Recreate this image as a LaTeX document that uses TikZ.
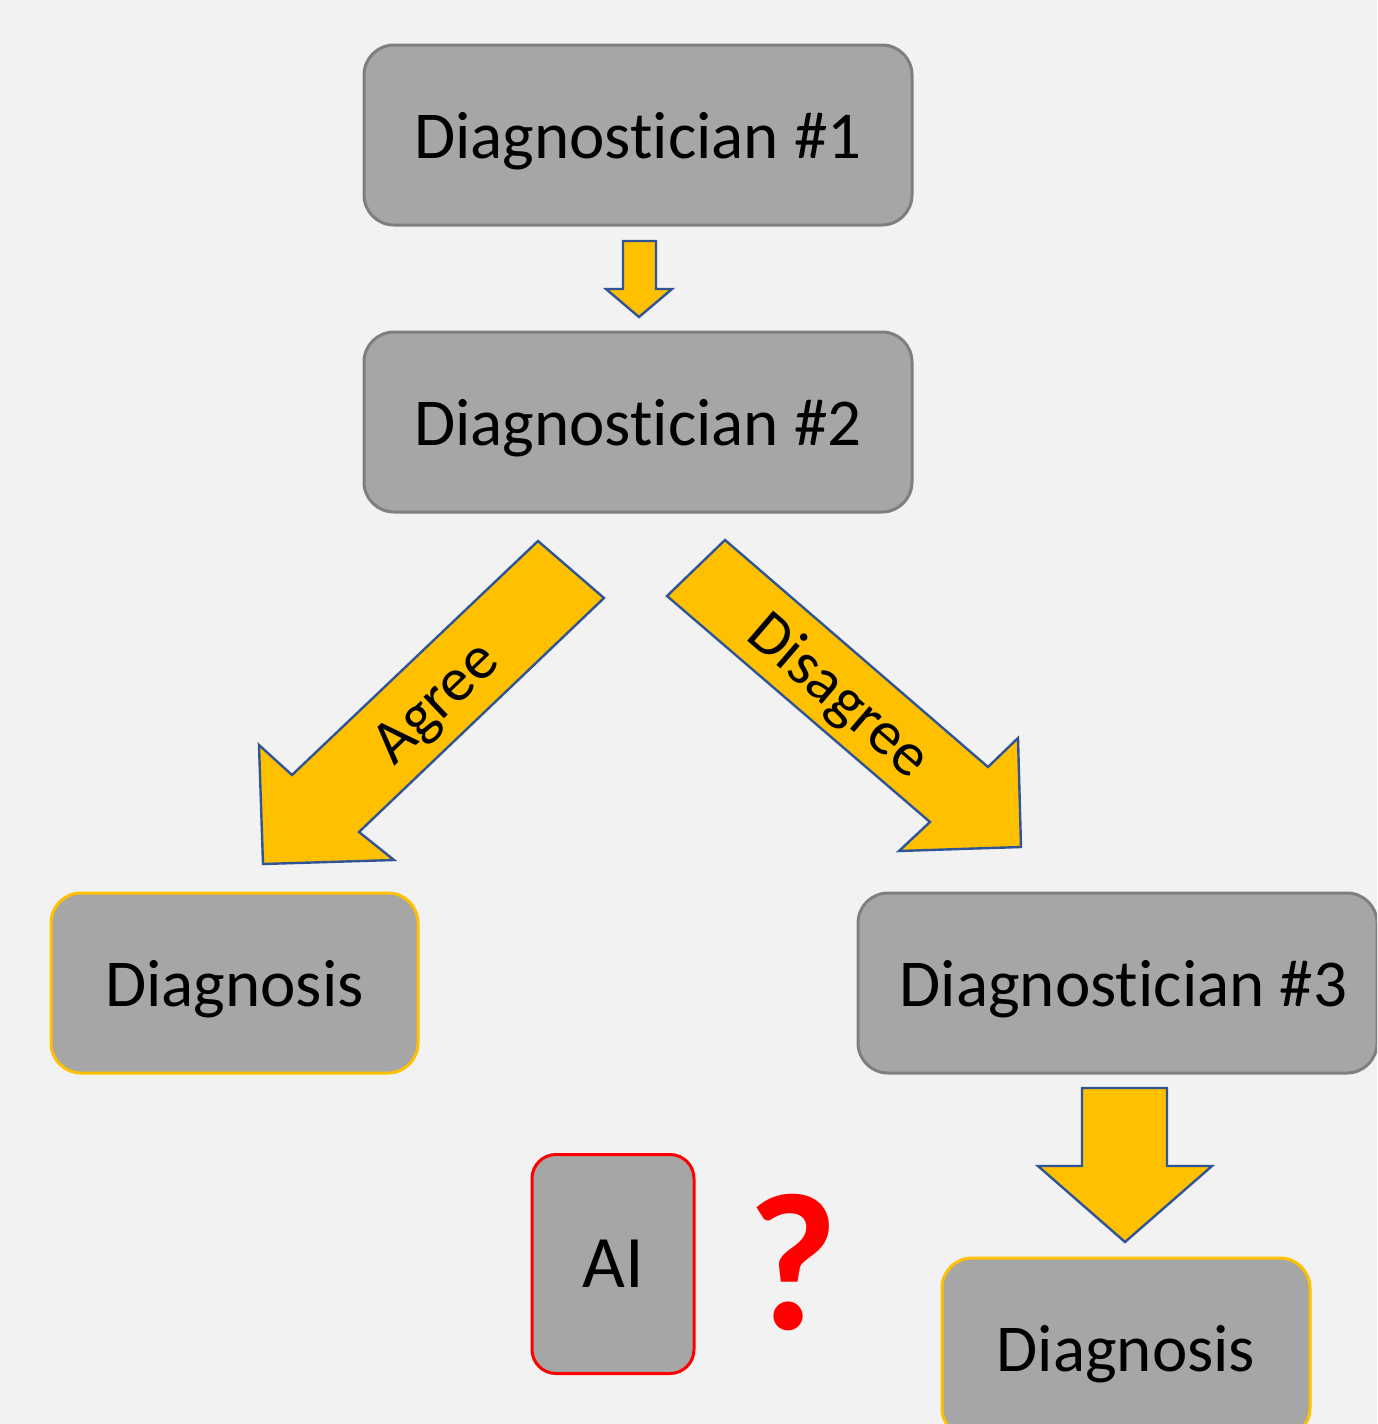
\documentclass[tikz,border=0pt]{standalone}
\usepackage{fontspec}
\setmainfont{Carlito}[Ligatures=NoCommon]
\definecolor{bg}{HTML}{F2F2F2}
\definecolor{boxfill}{HTML}{A6A6A6}
\definecolor{boxline}{HTML}{7F7F7F}
\definecolor{gold}{HTML}{FFC000}
\definecolor{arrowline}{HTML}{2F5597}
\definecolor{qred}{HTML}{FF0000}
\begin{document}
\begin{tikzpicture}[x=0.5pt,y=-0.5pt,
  box/.style={draw=boxline, fill=boxfill, line width=1.5pt, rounded corners=15pt,
    minimum width=274pt, minimum height=90pt, inner sep=0pt, text depth=0pt,
    font=\fontsize{33.5}{40}\selectfont},
  resultbox/.style={box, draw=gold, minimum width=184pt},
  blockarrow/.style={fill=gold, draw=arrowline, line width=1.2pt, line join=miter},
  lbl/.style={inner sep=0pt, font=\fontsize{31}{37}\selectfont}]
\fill[bg] (0,0) rectangle (1377,1424);
\useasboundingbox (0,0) rectangle (1377,1424);
\clip (0,0) rectangle (1377,1424);

% boxes
\node[box] (d1) at (638,135) {Diagnostician \#1};
\node[box] (d2) at (638,422) {Diagnostician \#2};
\node[resultbox, minimum width=183.5pt] (dx1) at (234.5,983) {Diagnosis};
\node[box, minimum width=259.5pt] (d3) at (1117.5,983) {\hspace*{6pt}Diagnostician \#3};
\node[resultbox] (dx2) at (1126,1348) {Diagnosis};
\node[box, draw=qred, minimum width=81pt, minimum height=109.5pt, rounded corners=12pt,
  font=\fontsize{37}{44}\selectfont] (ai) at (613,1264) {AI};
\node[inner sep=0pt, text=qred, font=\fontsize{98}{110}\selectfont\bfseries] (q) at (793,1262.5) {?};

% small arrow d1 -> d2
\draw[blockarrow] (623,241) -- (656,241) -- (656,289) -- (672,289) -- (639,317)
  -- (606,289) -- (623,289) -- cycle;

% agree arrow
\draw[blockarrow] (538,541) -- (604,598) -- (359,832) -- (394,860) -- (263,864)
  -- (259,745) -- (292,775) -- cycle;
\node[lbl, rotate=43.7] (agree) at (438,705) {Agree};

% disagree arrow
\draw[blockarrow] (725,540) -- (667,596) -- (930,822) -- (899,851) -- (1021,847)
  -- (1018,738) -- (988,767) -- cycle;
\node[lbl, rotate=-40.7] (disagree) at (838,697) {Disagree};

% big arrow d3 -> diagnosis
\draw[blockarrow] (1082,1088) -- (1167,1088) -- (1167,1166) -- (1212,1166)
  -- (1125,1242) -- (1038,1166) -- (1082,1166) -- cycle;
\end{tikzpicture}
\end{document}
